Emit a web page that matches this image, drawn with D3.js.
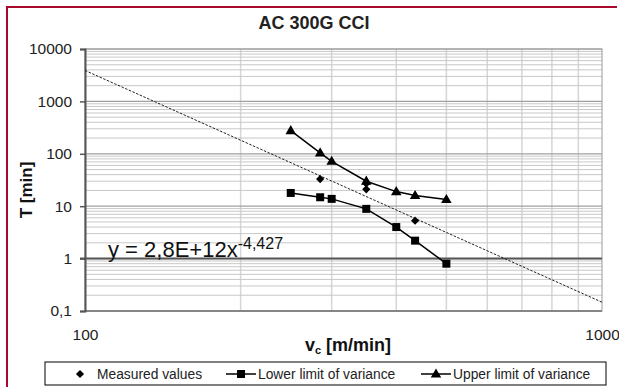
<!DOCTYPE html>
<html>
<head>
<meta charset="utf-8">
<script src="https://cdn.jsdelivr.net/npm/d3@7"></script>
<style>
  body { margin: 0; background: #fff; }
  svg text { font-family: "Liberation Sans", Arial, sans-serif; }
</style>
</head>
<body>
<svg id="chart" width="619" height="387"></svg>
<script>
// values
let title = "AC 300G CCI"
let yTicks = [0.1, 1, 10, 100, 1000, 10000]
let xTicks = [100, 1000]
let vcLimits = [250, 285, 300, 350, 400, 435, 500]
let upperT = [277, 104, 72, 30, 19, 16, 13.4]
let lowerT = [17.9, 14.8, 13.8, 8.9, 4.0, 2.2, 0.8]
let vcMeasured = [285, 350, 350, 435]
let measuredT = [33, 27, 21, 5.3]
// power trendline y = 2,8E+12 x^-4,427, end points as seen
let trendVc = [100, 1000]
let trendT = [3900, 0.147]
let legendNames = ["Measured values", "Lower limit of variance", "Upper limit of variance"]

let svg = d3.select("#chart")
let plotLeft = 85, plotRight = 602, plotTop = 49, plotBottom = 311

// red frame (left and top edges)
svg.append("path")
    .attr("d", "M7,387 V7 H617")
    .style("fill", "none")
    .style("stroke", "#a8082c")
    .style("stroke-width", 2)

let x = d3.scaleLog().domain([100, 1000]).range([plotLeft, plotRight])
let y = d3.scaleLog().domain([0.1, 10000]).range([plotBottom, plotTop])

// gridlines
let minorY = []
let majorY = []
for (let e = -1; e < 4; e++) {
    let d = Math.pow(10, e)
    majorY.push(d)
    for (let k = 2; k <= 9; k++) minorY.push(d * k)
}
majorY.push(10000)
let gridX = [200, 300, 400, 500, 600, 700, 800, 900]

svg.selectAll(".vgrid").data(gridX).enter().append("line")
    .attr("class", "vgrid")
    .attr("x1", d => x(d)).attr("x2", d => x(d))
    .attr("y1", plotTop).attr("y2", plotBottom)
    .style("stroke", "#d6d6d6").style("stroke-width", 1.5)

svg.selectAll(".mgrid").data(minorY).enter().append("line")
    .attr("class", "mgrid")
    .attr("x1", plotLeft).attr("x2", plotRight)
    .attr("y1", d => y(d)).attr("y2", d => y(d))
    .style("stroke", "#c8c8c8").style("stroke-width", 1)

svg.selectAll(".Mgrid").data(majorY).enter().append("line")
    .attr("class", "Mgrid")
    .attr("x1", plotLeft).attr("x2", plotRight)
    .attr("y1", d => y(d)).attr("y2", d => y(d))
    .style("stroke", "#a0a0a0").style("stroke-width", 1.2)

// plot frame
svg.append("rect")
    .attr("x", plotLeft).attr("y", plotTop)
    .attr("width", plotRight - plotLeft).attr("height", plotBottom - plotTop)
    .style("fill", "none").style("stroke", "#9a9a9a").style("stroke-width", 1)
svg.append("line")
    .attr("x1", plotLeft).attr("x2", plotRight).attr("y1", plotBottom).attr("y2", plotBottom)
    .style("stroke", "#777").style("stroke-width", 1.5)

// horizontal axis crosses at 1
svg.append("line")
    .attr("x1", plotLeft - 5).attr("x2", plotRight).attr("y1", y(1)).attr("y2", y(1))
    .style("stroke", "#555").style("stroke-width", 2)

// y axis
let yAxis = svg.append("g")
    .attr("transform", "translate(" + plotLeft + ",0)")
    .call(d3.axisLeft(y).tickValues(yTicks).tickSize(5).tickPadding(8)
        .tickFormat(d => String(d).replace(".", ",")))
yAxis.select(".domain").style("stroke", "#555").style("stroke-width", 2)
yAxis.selectAll(".tick line").style("stroke", "#555").style("stroke-width", 1.5)
yAxis.selectAll("text").style("font-size", "15.5px").style("fill", "#222")

// x axis labels (at the bottom)
let xAxis = svg.append("g")
    .attr("transform", "translate(0," + plotBottom + ")")
    .call(d3.axisBottom(x).tickValues(xTicks).tickSize(0).tickPadding(18)
        .tickFormat(d3.format("d")))
xAxis.select(".domain").remove()
xAxis.selectAll("text").style("font-size", "15.5px").style("fill", "#222")

// trendline
let line = d3.line().x(d => x(d[0])).y(d => y(d[1]))
svg.append("path")
    .datum(d3.zip(trendVc, trendT))
    .attr("d", line)
    .style("fill", "none").style("stroke", "#222")
    .style("stroke-width", 1).style("stroke-dasharray", "2.5,1.5")

// series lines
svg.append("path")
    .datum(d3.zip(vcLimits, upperT))
    .attr("d", line)
    .style("fill", "none").style("stroke", "#000").style("stroke-width", 1.5)
svg.append("path")
    .datum(d3.zip(vcLimits, lowerT))
    .attr("d", line)
    .style("fill", "none").style("stroke", "#000").style("stroke-width", 1.5)

let tri = d3.symbol().type(d3.symbolTriangle).size(48)
let sq = d3.symbol().type(d3.symbolSquare).size(64)
let dia = d3.symbol().type(d3.symbolSquare).size(34)

svg.selectAll(".up").data(d3.zip(vcLimits, upperT)).enter().append("path")
    .attr("class", "up")
    .attr("d", tri)
    .attr("transform", d => "translate(" + x(d[0]) + "," + (y(d[1]) + 0.5) + ")")
    .style("fill", "#000")
svg.selectAll(".low").data(d3.zip(vcLimits, lowerT)).enter().append("path")
    .attr("class", "low")
    .attr("d", sq)
    .attr("transform", d => "translate(" + x(d[0]) + "," + y(d[1]) + ")")
    .style("fill", "#000")
svg.selectAll(".meas").data(d3.zip(vcMeasured, measuredT)).enter().append("path")
    .attr("class", "meas")
    .attr("d", dia)
    .attr("transform", d => "translate(" + x(d[0]) + "," + y(d[1]) + ") rotate(45)")
    .style("fill", "#000")

// equation
let eq = svg.append("text")
    .attr("x", 108).attr("y", 257)
    .style("font-size", "22px").style("fill", "#111")
eq.append("tspan").text("y = 2,8E+12x")
eq.append("tspan").text("-4,427").attr("dy", -8).style("font-size", "16px")

// title and axis titles
svg.append("text")
    .attr("x", 314).attr("y", 28.5)
    .attr("text-anchor", "middle")
    .style("font-size", "18px").style("font-weight", "bold").style("fill", "#222")
    .text(title)

svg.append("text")
    .attr("transform", "translate(32,190) rotate(-90)")
    .attr("text-anchor", "middle")
    .style("font-size", "17px").style("font-weight", "bold").style("fill", "#111")
    .text("T [min]")

let xt = svg.append("text")
    .attr("x", 348).attr("y", 351)
    .attr("text-anchor", "middle")
    .style("font-size", "18px").style("font-weight", "bold").style("fill", "#111")
xt.append("tspan").text("v")
xt.append("tspan").text("c").attr("dy", 3).style("font-size", "11px")
xt.append("tspan").text(" [m/min]").attr("dy", -3)

// legend
let lg = svg.append("g")
lg.append("rect")
    .attr("x", 45).attr("y", 362).attr("width", 561).attr("height", 23)
    .style("fill", "#fff").style("stroke", "#000").style("stroke-width", 1)

let legendX = [80, 241, 436]
let legendSym = [dia, sq, tri]
legendNames.forEach(function (name, i) {
    let cx = legendX[i]
    if (i > 0) {
        lg.append("line")
            .attr("x1", cx - 15).attr("x2", cx + 15)
            .attr("y1", 374).attr("y2", 374)
            .style("stroke", "#000").style("stroke-width", 1.5)
    }
    lg.append("path")
        .attr("d", legendSym[i])
        .attr("transform", "translate(" + cx + "," + (i == 2 ? 374.5 : 374) + ")" + (i == 0 ? " rotate(45)" : ""))
        .style("fill", "#000")
    lg.append("text")
        .attr("x", cx + 17)
        .attr("y", 379)
        .style("font-size", "13.8px").style("fill", "#222")
        .text(name)
})
</script>
</body>
</html>
